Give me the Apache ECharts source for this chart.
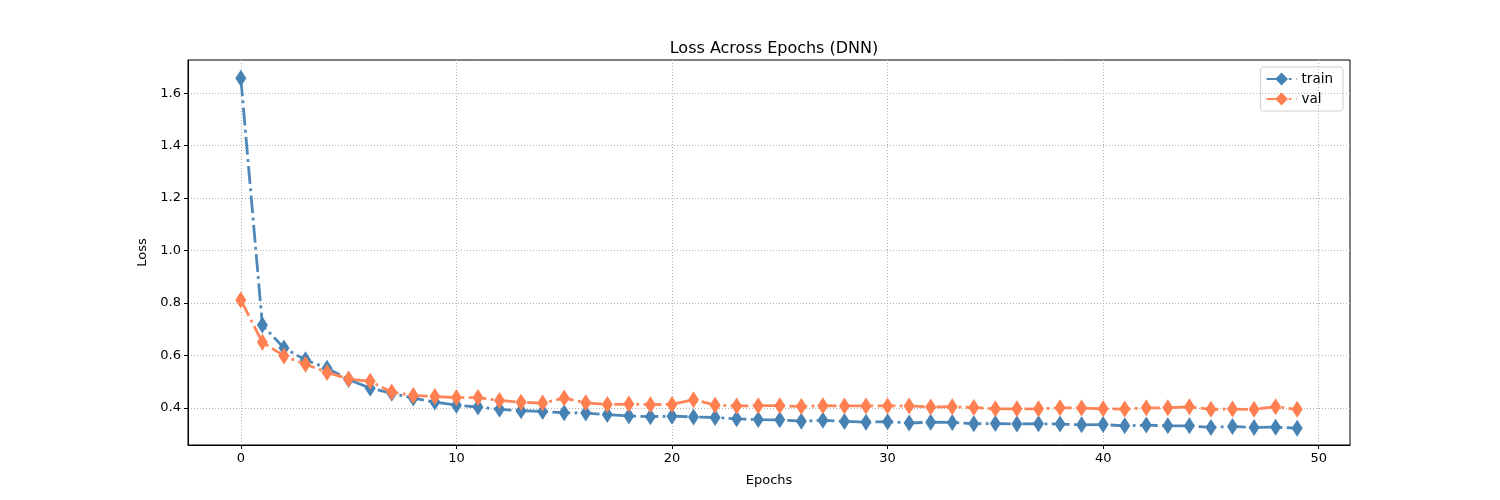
<!DOCTYPE html>
<html>
<head>
<meta charset="utf-8">
<script src="https://cdn.jsdelivr.net/npm/echarts@6/dist/echarts.min.js"></script>
<style>
  html, body { margin: 0; padding: 0; background: #fff; }
  #chart { width: 1500px; height: 500px; }
</style>
</head>
<body>
<div id="chart"></div>
<script>
// epochs 0..49
var epochs = [0,1,2,3,4,5,6,7,8,9,10,11,12,13,14,15,16,17,18,19,20,21,22,23,24,
  25,26,27,28,29,30,31,32,33,34,35,36,37,38,39,40,41,42,43,44,45,46,47,48,49];
// train loss
var trainLoss = [1.657,0.716,0.628,0.583,0.551,0.508,0.475,0.455,0.437,0.422,
  0.410,0.403,0.394,0.389,0.386,0.381,0.380,0.374,0.369,0.366,
  0.368,0.365,0.363,0.358,0.355,0.354,0.349,0.352,0.348,0.345,
  0.347,0.342,0.345,0.344,0.339,0.340,0.338,0.339,0.338,0.335,
  0.336,0.331,0.334,0.331,0.331,0.325,0.329,0.325,0.326,0.322];
// val loss
var valLoss = [0.811,0.650,0.598,0.566,0.535,0.510,0.501,0.460,0.447,0.443,
  0.439,0.439,0.428,0.421,0.418,0.437,0.419,0.413,0.414,0.412,
  0.413,0.431,0.410,0.407,0.408,0.408,0.405,0.408,0.407,0.407,
  0.407,0.407,0.403,0.404,0.401,0.396,0.396,0.396,0.400,0.399,
  0.396,0.395,0.400,0.400,0.404,0.394,0.395,0.394,0.404,0.394];
var xTicks = [0,10,20,30,40,50];
var yTicks = [0.4,0.6,0.8,1.0,1.2,1.4,1.6];

var myChart = echarts.init(document.getElementById('chart'));

function pairs(ys) {
  var out = [];
  for (var i = 0; i < epochs.length; i++) {
    out.push([epochs[i], ys[i]]);
  }
  return out;
}

var dashDot = [17.8, 4.4, 2.8, 4.4];
var font = 'DejaVu Sans';

var option = {
  backgroundColor: '#fff',
  animation: false,
  textStyle: { fontFamily: font },
  title: {
    text: 'Loss Across Epochs (DNN)',
    left: 769,
    top: 36,
    textAlign: 'center',
    textStyle: { fontFamily: font, fontSize: 16, fontWeight: 'normal', color: '#000' }
  },
  legend: {
    orient: 'vertical',
    right: 157,
    top: 67,
    itemWidth: 30,
    itemHeight: 16,
    itemGap: 6,
    padding: [5, 10, 5, 5],
    borderColor: '#d0d0d0',
    borderWidth: 1,
    borderRadius: 3,
    textStyle: { fontFamily: font, fontSize: 13.5, color: '#000' },
    data: ['train', 'val']
  },
  grid: {
    left: 188, right: 150, top: 60, bottom: 55,
    show: true, borderColor: '#000', borderWidth: 1
  },
  xAxis: {
    type: 'value',
    min: -2.45,
    max: 51.45,
    name: 'Epochs',
    nameLocation: 'middle',
    nameGap: 29,
    nameTextStyle: { fontFamily: font, fontSize: 13, color: '#000' },
    axisLine: { show: true, onZero: false, lineStyle: { color: '#000' } },
    axisTick: { show: true, inside: false, length: 4, customValues: xTicks, lineStyle: { color: '#000' } },
    axisLabel: { customValues: xTicks, color: '#000', fontSize: 13, margin: 7, fontFamily: font },
    splitLine: { show: true, lineStyle: { color: '#b0b0b0', type: [1, 2], width: 1 } }
  },
  yAxis: {
    type: 'value',
    min: 0.258,
    max: 1.727,
    name: 'Loss',
    nameLocation: 'middle',
    nameGap: 38,
    nameTextStyle: { fontFamily: font, fontSize: 13, color: '#000' },
    axisLine: { show: true, onZero: false, lineStyle: { color: '#000' } },
    axisTick: { show: true, inside: false, length: 4, customValues: yTicks, lineStyle: { color: '#000' } },
    axisLabel: {
      customValues: yTicks, color: '#000', fontSize: 13, margin: 7, fontFamily: font,
      formatter: function (v) { return v.toFixed(1); }
    },
    splitLine: { show: true, lineStyle: { color: '#b0b0b0', type: [1, 2], width: 1 } }
  },
  series: [
    {
      name: 'train',
      type: 'line',
      data: pairs(trainLoss),
      symbol: 'diamond',
      symbolSize: [11, 17],
      showAllSymbol: true,
      itemStyle: { color: '#4682b4' },
      lineStyle: { color: '#4682b4', width: 2.8, type: dashDot, opacity: 0.95 },
      z: 2
    },
    {
      name: 'val',
      type: 'line',
      data: pairs(valLoss),
      symbol: 'diamond',
      symbolSize: [11, 17],
      showAllSymbol: true,
      itemStyle: { color: '#ff7f50' },
      lineStyle: { color: '#ff7f50', width: 2.8, type: dashDot, opacity: 0.95 },
      z: 3
    }
  ]
};

myChart.setOption(option);
</script>
</body>
</html>
